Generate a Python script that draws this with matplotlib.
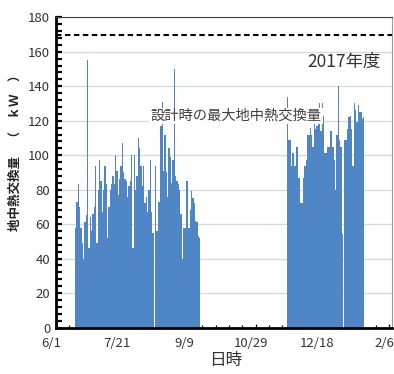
import numpy as np
import matplotlib
matplotlib.use('Agg')
import matplotlib.pyplot as plt
from matplotlib.ticker import MultipleLocator
from matplotlib.transforms import ScaledTranslation

plt.rcParams['font.family'] = ['Noto Sans CJK JP', 'DejaVu Sans']

# days counted from 6/1
tick_days = [0, 50, 100, 150, 200, 250]
tick_labels = ['6/1', '7/21', '9/9', '10/29', '12/18', '2/6']

# cooling season (daily ground heat exchange, kW)
summer_start = 15
summer_vals = [58, 73, 83, 70, 58, 49, 40, 61, 65, 155,
               46, 64, 56, 66, 70, 94, 49, 80, 97, 85,
               67, 80, 94, 83, 52, 70, 80, 83, 88, 83,
               100, 91, 77, 86, 94, 107, 90, 86, 85, 76,
               82, 85, 100, 46, 100, 80, 88, 110, 104, 94,
               82, 94, 72, 76, 67, 80, 97, 67, 55, 0,
               94, 56, 73, 73, 117, 131, 91, 112, 90, 76,
               104, 99, 84, 97, 150, 88, 85, 83, 80, 66,
               40, 58, 58, 85, 85, 58, 68, 79, 75, 72,
               62, 61, 53, 52]

# heating season
winter_start = 174
winter_vals = [134, 109, 109, 94, 101, 94, 94, 105, 87, 87,
               72, 72, 87, 94, 97, 112, 112, 116, 112, 105,
               119, 115, 117, 120, 130, 114, 130, 123, 101, 101,
               105, 105, 114, 114, 105, 97, 80, 112, 140, 109,
               105, 54, 0, 109, 109, 115, 122, 123, 115, 94,
               130, 126, 119, 129, 125, 125, 121, 122]

design_max = 170
bar_color = '#4f87c6'

fig = plt.figure(figsize=(3.94, 3.74), dpi=100)
ax = fig.add_axes([0.1414, 0.1243, 0.8528, 0.8294])

summer_days = np.arange(summer_start, summer_start + len(summer_vals))
winter_days = np.arange(winter_start, winter_start + len(winter_vals))
ax.bar(summer_days, summer_vals, width=1.0, color=bar_color, linewidth=0, zorder=2)
ax.bar(winter_days, winter_vals, width=1.0, color=bar_color, linewidth=0, zorder=2)

ax.axhline(design_max, color='black', lw=1.5, ls=(0, (2.6, 1.7)), zorder=3)

ax.set_xlim(0, 252)
ax.set_ylim(0, 180)
ax.set_xticks(tick_days)
ax.set_xticklabels(tick_labels)
ax.xaxis.set_minor_locator(MultipleLocator(10))
ax.yaxis.set_major_locator(MultipleLocator(20))
ax.yaxis.set_minor_locator(MultipleLocator(4))

ax.grid(axis='y', which='major', color='#d9d9d9', lw=1)
ax.set_axisbelow(True)

ax.tick_params(axis='y', which='both', direction='in', length=4.5, width=1.6,
               color='black', labelcolor='#333333', labelsize=9.5, pad=4)
ax.tick_params(axis='x', which='major', direction='in', length=3, width=0.9,
               color='black', labelcolor='#333333', labelsize=9.5, pad=7)
ax.tick_params(axis='x', which='minor', direction='in', length=2.5, width=0.9, color='black')

# labels sit a little left of their ticks
for lbl in ax.get_xticklabels():
    lbl.set_transform(lbl.get_transform() + ScaledTranslation(-0.05, 0, fig.dpi_scale_trans))

ax.spines['left'].set_linewidth(2)
ax.spines['bottom'].set_linewidth(2)
ax.spines['top'].set_linewidth(0.8)
ax.spines['top'].set_color('#404040')
ax.spines['right'].set_linewidth(0.8)
ax.spines['right'].set_color('#999999')

ax.text(216, 154, '2017年度', ha='center', va='center', fontsize=12.5, color='#333333')
ax.text(135, 122.7, '設計時の最大地中熱交換量', ha='center', va='center', fontsize=10.3,
        color='#404040', zorder=4, bbox=dict(fc='white', ec='none', pad=1))

fig.text(225.5 / 394, 1 - 361 / 374, '日時', ha='center', va='center', fontsize=12, color='#333333')
fig.text(15 / 394, 1 - 150 / 374, '地中熱交換量　（　ｋＷ　）', rotation=90, ha='center', va='center',
         fontsize=9, fontweight='bold', color='#222222')

fig.savefig('out.png', dpi=100)
